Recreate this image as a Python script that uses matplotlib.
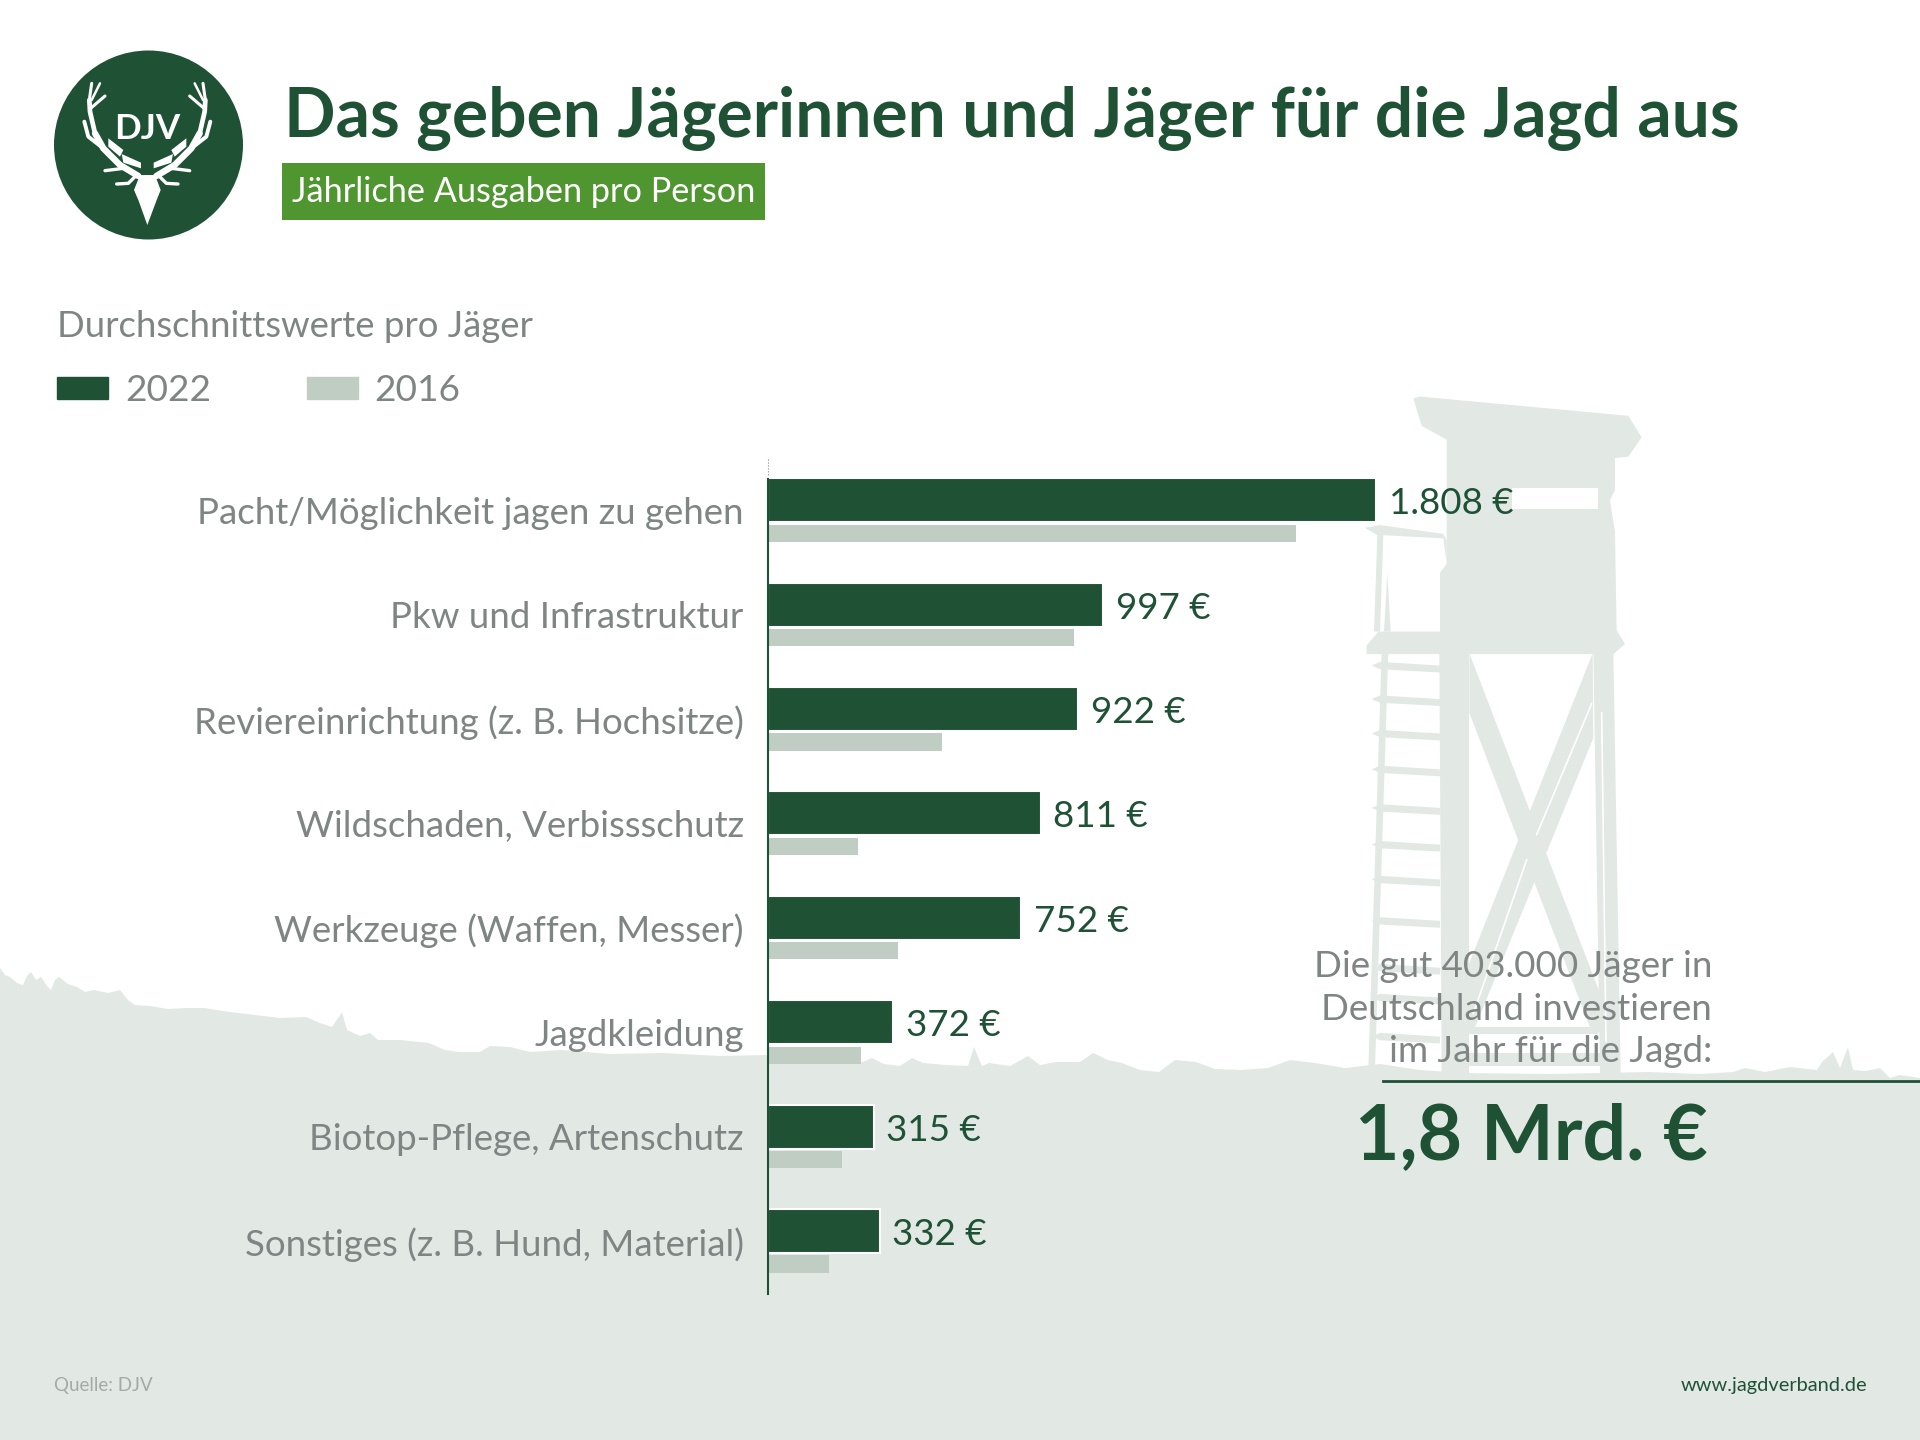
import matplotlib
matplotlib.use("Agg")
import matplotlib.pyplot as plt
import numpy as np
from matplotlib.patches import Circle, Patch, Polygon, Rectangle

plt.rcParams['font.family'] = ['Lato', 'DejaVu Sans']

# data
categories = [
    "Pacht/Möglichkeit jagen zu gehen",
    "Pkw und Infrastruktur",
    "Reviereinrichtung (z. B. Hochsitze)",
    "Wildschaden, Verbissschutz",
    "Werkzeuge (Waffen, Messer)",
    "Jagdkleidung",
    "Biotop-Pflege, Artenschutz",
    "Sonstiges (z. B. Hund, Material)",
]
values_2022 = [1808, 997, 922, 811, 752, 372, 315, 332]
values_2016 = [1568, 909, 516, 268, 385, 276, 220, 180]

DARK = "#1F5235"
LIGHT = "#BFCDC3"
PALE = "#E2E9E5"
GREY = "#7F8583"
GREEN = "#4F9530"
W, H = 1920, 1440


def px(size):
    return size * 0.72


fig = plt.figure(figsize=(19.2, 14.4), dpi=100, facecolor="white")

# backdrop in pixel coordinates: ground, hide, logo and the text around the chart
bg = fig.add_axes([0, 0, 1, 1], zorder=0)
bg.set_xlim(0, W)
bg.set_ylim(H, 0)
bg.axis("off")

ground = [(0, 968), (5, 975), (10, 977), (17, 983), (23, 985), (27, 976), (31, 972), (36, 980), (41, 977),
          (47, 986), (51, 990), (55, 980), (59, 977), (68, 984), (77, 987), (85, 992), (94, 990), (108, 993),
          (120, 990), (128, 1000), (135, 1005), (150, 1006), (168, 1009), (186, 1008), (204, 1008), (230, 1012),
          (255, 1015), (280, 1018), (306, 1017), (320, 1023), (332, 1027), (342, 1012), (347, 1030), (360, 1036),
          (370, 1033), (378, 1040), (400, 1040), (429, 1043), (445, 1050), (459, 1052), (480, 1052), (490, 1046),
          (510, 1047), (530, 1052), (561, 1050), (610, 1054), (663, 1053), (720, 1056), (765, 1055), (812, 1062),
          (860, 1063), (872, 1058), (884, 1064), (900, 1066), (912, 1058), (923, 1063), (945, 1065), (968, 1066),
          (974, 1047), (982, 1066), (989, 1063), (1010, 1066), (1028, 1056), (1040, 1065), (1056, 1062),
          (1080, 1062), (1093, 1053), (1108, 1060), (1122, 1063), (1140, 1070), (1159, 1072), (1175, 1060),
          (1196, 1062), (1215, 1069), (1241, 1070), (1268, 1068), (1290, 1060), (1315, 1063), (1345, 1068),
          (1380, 1064), (1420, 1070), (1463, 1073), (1550, 1074), (1648, 1072), (1700, 1074),
          (1733, 1072), (1745, 1068), (1765, 1072), (1790, 1067), (1817, 1070), (1822, 1062), (1833, 1052),
          (1840, 1068), (1848, 1047), (1853, 1070), (1866, 1071), (1880, 1068), (1890, 1078), (1900, 1075),
          (1920, 1078), (1920, H), (0, H)]
bg.add_patch(Polygon(ground, closed=True, fc=PALE, ec="none"))


def hide(points):
    # points as measured on the crop of the hide
    pts = np.array(points, dtype=float)
    pts[:, 0] = 1300 + pts[:, 0] / 3
    pts[:, 1] = 380 + pts[:, 1] / 2.178
    return pts


def tower(points):
    bg.add_patch(Polygon(hide(points), closed=True, fc=PALE, ec="none"))


def slit(points):
    pts = hide(points)
    bg.plot(pts[:, 0], pts[:, 1], color="white", lw=1.2)


# roof and cabin
tower([(340, 40), (360, 36), (985, 78), (1025, 125), (985, 167), (945, 170), (945, 240), (930, 262),
       (945, 330), (950, 545), (975, 575), (940, 597), (200, 597), (200, 578), (235, 548), (420, 548),
       (420, 420), (440, 400), (440, 130), (365, 100)])
# railing of the ladder
tower([(195, 322), (240, 316), (430, 335), (440, 350), (440, 400), (430, 345), (250, 338), (240, 548), (222, 548), (232, 338)])
tower([(252, 548), (262, 420), (272, 548)])
# legs
tower([(420, 590), (508, 590), (508, 1510), (450, 1510)])
tower([(418, 590), (445, 590), (450, 1510), (425, 1510)])
tower([(880, 590), (940, 590), (962, 1510), (900, 1510)])
# braces
tower([(508, 595), (905, 1345), (905, 1425), (870, 1410), (508, 725)])
tower([(878, 595), (880, 780), (525, 1410), (505, 1410), (505, 1275)])
tower([(505, 1410), (895, 1410), (895, 1425), (505, 1425)])
tower([(505, 1465), (905, 1465), (905, 1495), (505, 1495)])
slit([(875, 705), (710, 990)])
slit([(680, 1045), (520, 1380)])
slit([(905, 725), (918, 1440)])
# ladder rails and rungs
tower([(245, 590), (265, 590), (225, 1500), (205, 1500)])
for y in [622, 695, 770, 848, 932, 1012, 1088, 1178, 1280, 1345, 1430]:
    tower([(215, y), (240, y - 8), (420, y), (420, y + 15), (240, y + 8)])
bg.add_patch(Rectangle((1300 + 635 / 3, 380 + 235 / 2.178), (893 - 635) / 3, 47 / 2.178, fc="white", ec="none"))


# logo
def mark(z):
    return 40 + np.array(z, dtype=float) / 3


def antler(points, lw):
    pts = np.array(points, dtype=float)
    for xs in (pts[:, 0], 2 * 322 - pts[:, 0]):
        bg.plot(mark(xs), mark(pts[:, 1]), color="white", lw=lw, solid_capstyle="round", solid_joinstyle="round")


bg.add_patch(Circle((148.5, 145), 94.5, fc=DARK, ec="none"))
antler([(295, 408), (240, 375), (190, 325), (165, 280)], 4.6)
antler([(165, 280), (150, 215), (148, 180)], 3.4)
antler([(148, 180), (155, 130)], 2.2)
antler([(152, 205), (195, 168)], 2.2)
antler([(155, 180), (180, 130)], 1.8)
antler([(190, 325), (145, 290), (133, 245)], 2.8)
antler([(250, 385), (195, 392)], 2.4)
antler([(285, 410), (265, 430), (230, 432)], 2.4)
for leaf in ([(205, 295), (250, 330), (240, 350), (205, 320)], [(245, 342), (303, 368), (303, 385), (250, 368)]):
    leaf = np.array(leaf, dtype=float)
    for xs in (leaf[:, 0], 2 * 322 - leaf[:, 0]):
        bg.add_patch(Polygon(np.column_stack([mark(xs), mark(leaf[:, 1])]), closed=True, fc="white", ec="none"))
bg.add_patch(Polygon(np.column_stack([mark([300, 345, 362, 350, 322, 295, 282]), mark([405, 405, 450, 480, 555, 480, 450])]),
                     closed=True, fc="white", ec="none"))
bg.text(147, 139, "DJV", color="white", fontsize=px(35), fontweight="bold", ha="center", va="baseline")

# heading
bg.text(284, 137, "Das geben Jägerinnen und Jäger für die Jagd aus", color=DARK, fontsize=px(67.7),
        fontweight="bold", va="baseline")
bg.add_patch(Rectangle((282, 163), 483, 57, fc=GREEN, ec="none"))
bg.text(292, 202, "Jährliche Ausgaben pro Person", color="white", fontsize=px(34.3), va="baseline")
bg.text(57, 337, "Durchschnittswerte pro Jäger", color=GREY, fontsize=px(36.5), va="baseline")

# side note
bg.text(1712, 977, "Die gut 403.000 Jäger in", color=GREY, fontsize=px(36.7), ha="right", va="baseline")
bg.text(1712, 1020, "Deutschland investieren", color=GREY, fontsize=px(36.7), ha="right", va="baseline")
bg.text(1712, 1062, "im Jahr für die Jagd:", color=GREY, fontsize=px(36.7), ha="right", va="baseline")
bg.plot([1383, W], [1081, 1081], color=DARK, lw=2)
bg.text(1708, 1160, "1,8 Mrd. €", color=DARK, fontsize=px(77), fontweight="bold", ha="right", va="baseline")

# footer
bg.text(54, 1391, "Quelle: DJV", color="#A4ABA7", fontsize=px(18.8), va="baseline")
bg.text(1867, 1391, "www.jagdverband.de", color=DARK, fontsize=px(20), ha="right", va="baseline")

# faint dotted start of the axis line above the first bar
bg.plot([768, 768], [459, 479], color=GREY, lw=0.8, ls=":")

# chart
PITCH = 104.4
ax = fig.add_axes([768 / W, 1 - 1294 / H, (W - 768) / W, (1294 - 460) / H], zorder=1)
ax.patch.set_alpha(0)
pos = np.arange(len(categories))
ax.set_xlim(0, (W - 768) / 0.3365)
ax.set_ylim((1294 - 516.7) / PITCH, (460 - 516.7) / PITCH)

ax.barh(pos - 0.158, values_2022, height=0.42, color=DARK, edgecolor="white", linewidth=1.5)
ax.barh(pos + 0.158, values_2016, height=0.163, color=LIGHT)

for y, v in zip(pos - 0.158, values_2022):
    ax.annotate(f"{v:,}".replace(",", ".") + " €", (v, y), xytext=(9, -2.5), textcoords="offset points",
                color=DARK, fontsize=px(36.8), va="center")

ax.set_yticks(pos - 0.06, categories)
ax.tick_params(axis="y", length=0, pad=17.5, labelsize=px(36.6), labelcolor=GREY)
ax.set_xticks([])
for side in ["top", "right", "bottom"]:
    ax.spines[side].set_visible(False)
ax.spines["left"].set_color(DARK)
ax.spines["left"].set_linewidth(1.5)
ax.spines["left"].set_bounds((479 - 516.7) / PITCH, (1294 - 516.7) / PITCH)

fig.legend(handles=[Patch(color=DARK, label="2022"), Patch(color=LIGHT, label="2016")], ncol=2,
           loc="upper left", bbox_to_anchor=(57 / W, 1 - 374 / H), frameon=False, fontsize=px(37),
           labelcolor=GREY, borderpad=0, borderaxespad=0, handlelength=1.38, handleheight=0.57,
           handletextpad=0.46, columnspacing=2.58)

fig.savefig("out.png", dpi=100)
